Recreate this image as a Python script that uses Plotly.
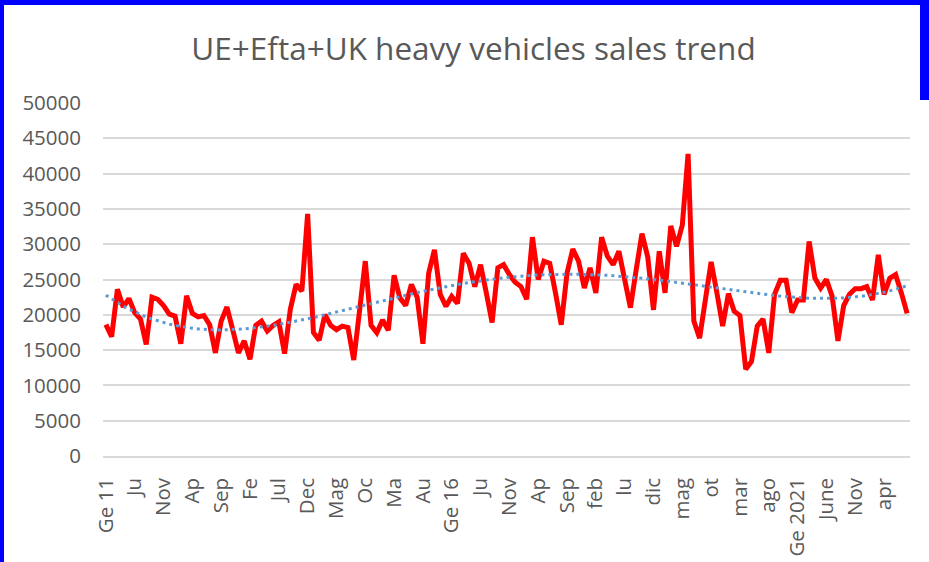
import numpy as np
import pandas as pd
import plotly.graph_objects as go

# Monthly registrations, Jan 2011 .. Aug 2022
months = [d.strftime("%Y-%m") for d in pd.date_range("2011-01-01", periods=140, freq="MS")]

sales = [
    18600, 16900, 23600, 21100, 22300, 20300, 19400, 15800, 22500, 22200, 21300, 20100,  # 2011
    19800, 15900, 22700, 20200, 19700, 19900, 18600, 14600, 19100, 21100, 17900, 14600,  # 2012
    16300, 13700, 18500, 19100, 17700, 18500, 19000, 14500, 20800, 24300, 23350, 34300,  # 2013
    17500, 16400, 20000, 18500, 17900, 18400, 18200, 13600, 20500, 27600, 18500, 17450,  # 2014
    19250, 17800, 25600, 22400, 21300, 24300, 22500, 15900, 25900, 29200, 22900, 21200,  # 2015
    22600, 21600, 28700, 27300, 24000, 27100, 23100, 18900, 26650, 27100, 25700, 24600,  # 2016
    24000, 22200, 31000, 25000, 27600, 27300, 23100, 18600, 25900, 29300, 27600, 23800,  # 2017
    26650, 23100, 31000, 28300, 27100, 29000, 25000, 21000, 26400, 31500, 28200, 20700,  # 2018
    29000, 23100, 32600, 29700, 32700, 42800, 19100, 16700, 22100, 27500, 23100, 18400,  # 2019
    23000, 20500, 19900, 12300, 13400, 18400, 19400, 14600, 22900, 24900, 24900, 20300,  # 2020
    22100, 22100, 30400, 25200, 23800, 25000, 22600, 16300, 21300, 22900, 23700, 23700,  # 2021
    24000, 22100, 28500, 22900, 25200, 25700, 23100, 20200,                              # 2022
]

tick_labels = ["Ge 11", "Ju", "Nov", "Ap", "Sep", "Fe", "Jul", "Dec", "Mag", "Oc", "Ma", "Au",
               "Ge 16", "Ju", "Nov", "Ap", "Sep", "feb", "lu", "dic", "mag", "ot", "mar", "ago",
               "Ge 2021", "June", "Nov", "apr"]
tick_months = months[::5][:len(tick_labels)]

y_ticks = list(range(0, 50001, 5000))

# 4th-order polynomial trendline (as in the spreadsheet chart)
xi = np.arange(1, len(sales) + 1)
trend = np.polyval(np.polyfit(xi, np.array(sales, dtype=float), 4), xi)

FONT = "Open Sans"
GRAY = "#595959"

fig = go.Figure()
fig.add_trace(go.Scatter(x=months, y=sales, mode="lines",
                         line=dict(color="#FF0000", width=5), hoverinfo="skip"))
fig.add_trace(go.Scatter(x=months, y=trend, mode="lines",
                         line=dict(color="#5B9BD5", width=3, dash="3px,4px"), hoverinfo="skip"))

W, H = 929, 562
L, R, T, B = 103, 19, 103, 106
pw, ph = W - L - R, H - T - B

def px_x(p):
    return (p - L) / pw

def px_y(p):
    return (H - B - p) / ph

blue = "#0000FF"
shapes = [
    dict(type="rect", xref="paper", yref="paper", x0=px_x(0), x1=px_x(W), y0=px_y(5), y1=px_y(0),
         fillcolor=blue, line=dict(width=0), layer="above"),
    dict(type="rect", xref="paper", yref="paper", x0=px_x(0), x1=px_x(4), y0=px_y(H), y1=px_y(0),
         fillcolor=blue, line=dict(width=0), layer="above"),
    dict(type="rect", xref="paper", yref="paper", x0=px_x(920), x1=px_x(W), y0=px_y(100), y1=px_y(0),
         fillcolor=blue, line=dict(width=0), layer="above"),
]

fig.update_layout(
    width=W, height=H,
    margin=dict(l=L, r=R, t=T, b=B, pad=0),
    paper_bgcolor="white", plot_bgcolor="white",
    showlegend=False,
    title=dict(text="UE+Efta+UK heavy vehicles sales trend", x=473.5 / W, xanchor="center",
               y=1 - 49 / H, yanchor="middle", yref="container", xref="container",
               font=dict(family=FONT, size=31.5, color=GRAY)),
    font=dict(family=FONT, size=20.5, color=GRAY),
    shapes=shapes,
    xaxis=dict(type="category", range=[-0.5, len(months) - 0.5],
               tickmode="array", tickvals=tick_months, ticktext=tick_labels,
               tickangle=-90, showgrid=False, showline=True, linecolor="#D9D9D9", linewidth=1.5,
               ticks="", ticklabelstandoff=12, automargin=False,
               tickfont=dict(family=FONT, size=20.5, color=GRAY)),
    yaxis=dict(range=[0, 50000], tickmode="array", tickvals=y_ticks,
               ticktext=[str(v) for v in y_ticks],
               showgrid=True, gridcolor="#D9D9D9", gridwidth=1.5, zeroline=False,
               ticks="", ticklabelstandoff=21, automargin=False,
               tickfont=dict(family=FONT, size=20.5, color=GRAY)),
)

fig.write_html("out.html", config={"displayModeBar": False},
               post_script="document.body.style.margin='0';document.body.style.overflow='hidden';")
